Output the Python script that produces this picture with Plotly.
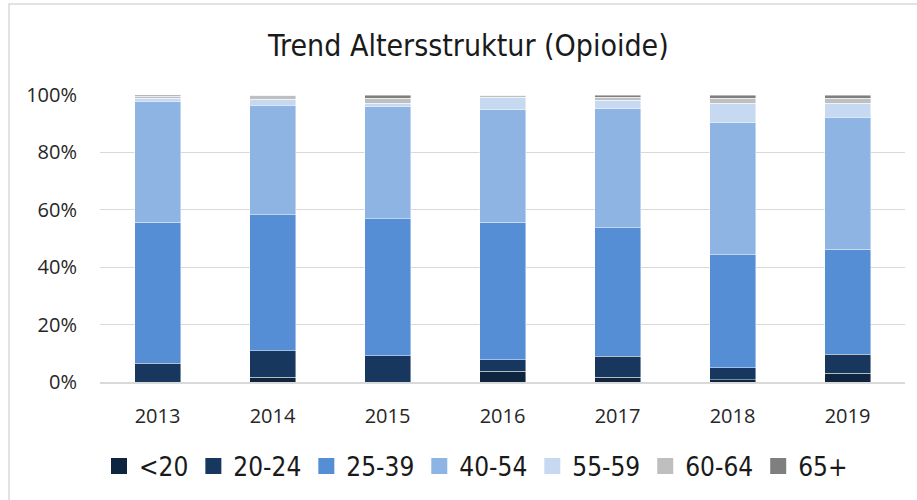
import plotly.graph_objects as go

years = ["2013", "2014", "2015", "2016", "2017", "2018", "2019"]
age_groups = ["<20", "20-24", "25-39", "40-54", "55-59", "60-64", "65+"]

v_lt20 = [0.0, 1.7, 0.0, 3.7, 1.7, 0.7, 3.1]
v_20_24 = [6.6, 9.2, 9.2, 4.1, 7.2, 4.2, 6.5]
v_25_39 = [49.0, 47.4, 47.6, 47.8, 44.8, 39.5, 36.7]
v_40_54 = [42.2, 38.2, 39.1, 39.2, 41.5, 46.0, 45.9]
v_55_59 = [1.1, 2.1, 1.3, 4.5, 3.0, 6.7, 4.9]
v_60_64 = [0.6, 1.4, 1.6, 0.7, 1.0, 1.8, 1.8]
v_65p = [0.5, 0.0, 1.2, 0.0, 0.8, 1.1, 1.1]

y_ticks = [0, 0.2, 0.4, 0.6, 0.8, 1.0]
y_tick_labels = ["0%", "20%", "40%", "60%", "80%", "100%"]

series = [v_lt20, v_20_24, v_25_39, v_40_54, v_55_59, v_60_64, v_65p]
colors = ["#0f243e", "#17375e", "#558ed5", "#8eb4e3", "#c6d9f1", "#bfbfbf", "#7f7f7f"]

W, H = 917, 500
L, R, T, B = 100, 12, 95, 118
pw, ph = W - L - R, H - T - B

COND = "DejaVu Sans Condensed, Liberation Sans Narrow, sans-serif"


def px_to_paper_x(px):
    return (px - L) / pw


def px_to_paper_y(py):
    return (H - B - py) / ph


fig = go.Figure()
for name, vals, col in zip(age_groups, series, colors):
    fig.add_trace(go.Bar(
        x=years, y=[v / 100 for v in vals], name=name,
        marker=dict(color=col, line=dict(color="rgba(255,255,255,0.55)", width=0.8)),
        showlegend=False,
    ))
for name, col in zip(age_groups, colors):
    fig.add_trace(go.Scatter(
        x=[None], y=[None], mode="markers", name=name,
        marker=dict(symbol="square", size=16, color=col),
        showlegend=True,
    ))

fig.update_layout(
    width=W, height=H,
    barmode="stack", bargap=0.6,
    margin=dict(l=L, r=R, t=T, b=B, autoexpand=False),
    plot_bgcolor="white", paper_bgcolor="white",
    legend=dict(
        orientation="h", x=px_to_paper_x(99), xanchor="left",
        y=px_to_paper_y(466), yanchor="middle",
        font=dict(family=COND, size=26, color="#1a1a1a"),
        itemsizing="trace", traceorder="normal",
        bgcolor="rgba(0,0,0,0)",
    ),
    annotations=[dict(
        text="Trend Altersstruktur (Opioide)", xref="paper", yref="paper",
        x=px_to_paper_x(468), y=px_to_paper_y(45), xanchor="center", yanchor="middle",
        showarrow=False,
        font=dict(family=COND, size=30, color="#1a1a1a"),
    )],
    shapes=[dict(
        type="rect", xref="paper", yref="paper", layer="below",
        x0=px_to_paper_x(9), x1=px_to_paper_x(960),
        y0=px_to_paper_y(560), y1=px_to_paper_y(4),
        line=dict(color="#d9d9d9", width=1.5), fillcolor="rgba(0,0,0,0)",
    )],
)
fig.update_xaxes(
    showgrid=False, showline=True, linecolor="#d9d9d9", linewidth=2,
    ticks="", ticklabelstandoff=15, automargin=False,
    tickfont=dict(family="Open Sans, sans-serif", size=20, color="#262626"),
)
fig.update_yaxes(
    range=[0, 1], tickvals=y_ticks, ticktext=y_tick_labels,
    showgrid=True, gridcolor="#d9d9d9", gridwidth=1.2, zeroline=False,
    showline=False, ticks="", ticklabelstandoff=22, automargin=False,
    tickfont=dict(family="Open Sans, sans-serif", size=20, color="#262626"),
)

fig.write_html(
    "out.html",
    config={"displayModeBar": False},
    post_script="document.body.style.margin='0px';document.body.style.padding='0px';",
)
